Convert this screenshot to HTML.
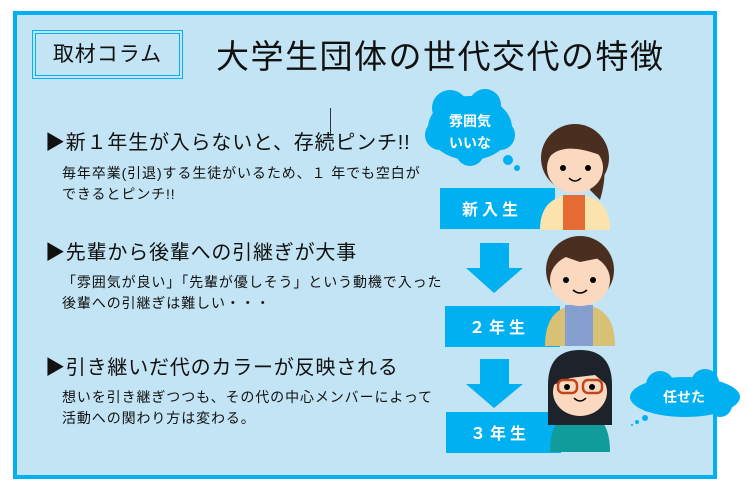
<!DOCTYPE html>
<html><head><meta charset="utf-8"><style>
body{margin:0;width:748px;height:495px;background:#fff;position:relative;overflow:hidden;font-family:"Liberation Sans","Noto Sans CJK JP",sans-serif;}
.a{position:absolute;white-space:nowrap;color:#111}
.s{font-size:14px;line-height:21px;letter-spacing:0.9px}
</style></head><body>
<div class="a" style="left:13px;top:11px;width:696px;height:460px;border:4px solid #00b0f0;background:#c3e4f4"></div>
<div class="a" style="left:35px;top:33px;width:143px;height:41px;border:1px solid #00b0f0;outline:1px solid #00b0f0;outline-offset:2px;font-size:21px;line-height:41px;text-align:center;letter-spacing:1px">取材コラム</div>
<div class="a" style="left:216px;top:36px;font-size:33px;line-height:42px;letter-spacing:1.5px">大学生団体の世代交代の特徴</div>
<div class="a" style="left:330px;top:108px;width:1px;height:28px;background:#333"></div>
<div class="a" style="left:45px;top:126px;font-size:20px;letter-spacing:0.8px">▶新１年生が入らないと、存続ピンチ!!</div>
<div class="a s" style="left:62px;top:163px">毎年卒業(引退)する生徒がいるため、１ 年でも空白が<br>できるとピンチ!!</div>
<div class="a" style="left:45px;top:236px;font-size:20px;letter-spacing:0.8px">▶先輩から後輩への引継ぎが大事</div>
<div class="a s" style="left:62px;top:272px">「雰囲気が良い」「先輩が優しそう」という動機で入った<br>後輩への引継ぎは難しい・・・</div>
<div class="a" style="left:45px;top:351px;font-size:20px;letter-spacing:0.8px">▶引き継いだ代のカラーが反映される</div>
<div class="a s" style="left:62px;top:387px">想いを引き継ぎつつも、その代の中心メンバーによって<br>活動への関わり方は変わる。</div>
<svg class="a" style="left:0;top:0" width="748" height="495">
<g fill="#00b0f0">
<rect x="440" y="188" width="115" height="41"/>
<rect x="445" y="306" width="115" height="41"/>
<rect x="446" y="412" width="115" height="41"/>
<polygon points="480,243 509,243 509,268 523,268 494,293 466,268 480,268"/>
<polygon points="480,359 509,359 509,384 523,384 494,408 466,384 480,384"/>
<ellipse cx="470" cy="128" rx="42" ry="32"/><circle cx="450" cy="108" r="18"/><circle cx="485" cy="105" r="16"/><circle cx="440" cy="135" r="15"/><circle cx="470" cy="152" r="14"/><circle cx="500" cy="135" r="15"/>
<circle cx="508" cy="160" r="5"/><circle cx="517" cy="168" r="3"/>
<ellipse cx="685" cy="397" rx="55" ry="20"/><circle cx="660" cy="385" r="14"/><circle cx="705" cy="383" r="14"/><circle cx="650" cy="400" r="12"/><circle cx="720" cy="405" r="12"/>
<circle cx="645" cy="418" r="3"/><circle cx="637" cy="422" r="2"/><circle cx="632" cy="425" r="1"/>
</g>
<g font-family="Liberation Sans,Noto Sans CJK JP,sans-serif" font-weight="bold" fill="#fff">
<text x="470" y="126" font-size="14" text-anchor="middle">雰囲気</text>
<text x="470" y="148" font-size="14" text-anchor="middle">いいな</text>
<text x="684" y="402" font-size="14" text-anchor="middle">任せた</text>
<text x="462" y="215" font-size="16" letter-spacing="4">新入生</text>
<text x="469" y="333" font-size="16" letter-spacing="4">２年生</text>
<text x="470" y="439" font-size="16" letter-spacing="4">３年生</text>
</g>
<path d="M540,230 Q540,195 575,195 Q610,195 610,230Z" fill="#fbe3ad"/>
<rect x="563" y="195" width="22" height="35" fill="#e66b32"/>
<circle cx="575" cy="158" r="34" fill="#4a2f20"/>
<path d="M592,140 Q612,160 600,200 L590,190Z" fill="#4a2f20"/>
<ellipse cx="575" cy="168" rx="28" ry="25" fill="#fbd8c0"/>
<path d="M547,160 Q560,140 600,155 L602,145 Q575,125 547,150Z" fill="#4a2f20"/>
<circle cx="563" cy="168" r="3"/><circle cx="588" cy="168" r="3"/>
<path d="M569,178 Q575,184 581,178" stroke="#000" stroke-width="1.5" fill="none"/>
<path d="M545,346 Q545,305 580,305 Q615,305 615,346Z" fill="#d8c074"/>
<rect x="565" y="305" width="28" height="41" fill="#85a0ce"/>
<circle cx="580" cy="270" r="34" fill="#4a2f20"/>
<ellipse cx="580" cy="280" rx="30" ry="26" fill="#fbd8c0"/>
<path d="M548,270 Q555,238 585,240 Q615,245 612,272 L600,258 L580,262 L560,255Z" fill="#4a2f20"/>
<circle cx="566" cy="280" r="3"/><circle cx="593" cy="280" r="3"/>
<path d="M573,290 Q580,296 587,290" stroke="#000" stroke-width="1.5" fill="none"/>
<path d="M550,452 Q550,412 580,412 Q610,412 610,452Z" fill="#109c9a"/>
<path d="M548,385 Q548,350 580,350 Q612,350 612,385 L612,425 L548,425Z" fill="#1e222a"/>
<ellipse cx="580" cy="392" rx="27" ry="24" fill="#fbd8c0"/>
<path d="M553,385 Q555,360 580,362 Q605,360 607,385 L595,375 L570,378Z" fill="#1e222a"/>
<rect x="558" y="380" width="19" height="13" rx="5" fill="none" stroke="#c0461e" stroke-width="2.5"/>
<rect x="583" y="380" width="19" height="13" rx="5" fill="none" stroke="#c0461e" stroke-width="2.5"/>
<circle cx="567" cy="387" r="3"/><circle cx="592" cy="387" r="3"/>
<path d="M574,398 Q580,404 586,398" stroke="#000" stroke-width="1.5" fill="none"/>
</svg>
</body></html>
